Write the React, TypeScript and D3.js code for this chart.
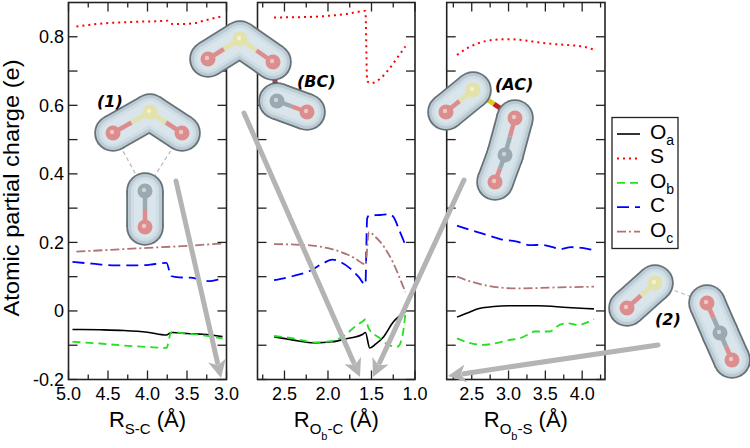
import React, { useEffect, useRef } from 'react';
import * as d3 from 'd3';

type Pt = [number, number];

// shared y axis
const yDomain: [number, number] = [-0.2, 0.9];
const yLabelTicks = [-0.2, 0, 0.2, 0.4, 0.6, 0.8];

// x axes of the three panels
const xDomain1: [number, number] = [5.0, 3.0];
const xDomain2: [number, number] = [2.81, 1.0];
const xDomain3: [number, number] = [2.16, 4.31];
const xTicks1 = [5.0, 4.5, 4.0, 3.5, 3.0];
const xTicks2 = [2.5, 2.0, 1.5, 1.0];
const xTicks3 = [2.5, 3.0, 3.5, 4.0];

// panel 1: R(S-C)
const p1Oa: Pt[] = [[4.95, -0.054], [4.6, -0.055], [4.3, -0.057], [4.0, -0.062], [3.76, -0.07], [3.72, -0.065], [3.68, -0.063], [3.5, -0.066], [3.3, -0.068], [3.05, -0.075]];
const p1S: Pt[] = [[4.9, 0.83], [4.7, 0.836], [4.5, 0.84], [4.3, 0.842], [4.1, 0.844], [3.9, 0.845], [3.75, 0.847], [3.7, 0.838], [3.6, 0.837], [3.4, 0.84], [3.3, 0.846], [3.2, 0.852], [3.05, 0.86]];
const p1Ob: Pt[] = [[4.95, -0.09], [4.6, -0.095], [4.3, -0.101], [4.0, -0.105], [3.76, -0.108], [3.7, -0.062], [3.5, -0.066], [3.3, -0.071], [3.05, -0.08]];
const p1C: Pt[] = [[4.95, 0.143], [4.7, 0.138], [4.4, 0.133], [4.1, 0.133], [3.9, 0.137], [3.76, 0.14], [3.7, 0.102], [3.6, 0.098], [3.45, 0.097], [3.3, 0.09], [3.22, 0.087], [3.1, 0.092], [3.05, 0.095]];
const p1Oc: Pt[] = [[4.9, 0.173], [4.5, 0.178], [4.0, 0.184], [3.5, 0.19], [3.05, 0.197]];

// panel 2: R(Ob-C)
const p2Oa: Pt[] = [[2.62, -0.075], [2.4, -0.085], [2.15, -0.093], [1.95, -0.09], [1.8, -0.082], [1.6, -0.068], [1.57, -0.063], [1.52, -0.108], [1.45, -0.096], [1.36, -0.075], [1.25, -0.032], [1.18, -0.015], [1.11, -0.002]];
const p2S: Pt[] = [[2.62, 0.856], [2.4, 0.857], [2.2, 0.858], [2.0, 0.861], [1.8, 0.866], [1.57, 0.875], [1.55, 0.67], [1.5, 0.665], [1.4, 0.678], [1.3, 0.705], [1.2, 0.74], [1.11, 0.772]];
const p2Ob: Pt[] = [[2.62, -0.073], [2.4, -0.08], [2.15, -0.092], [1.95, -0.087], [1.8, -0.07], [1.7, -0.048], [1.6, -0.03], [1.57, -0.025], [1.53, -0.052], [1.4, -0.08], [1.3, -0.1], [1.2, -0.104], [1.15, -0.08], [1.11, -0.007]];
const p2C: Pt[] = [[2.62, 0.09], [2.4, 0.102], [2.2, 0.118], [2.05, 0.14], [1.95, 0.15], [1.85, 0.142], [1.75, 0.125], [1.65, 0.1], [1.57, 0.077], [1.55, 0.27], [1.53, 0.278], [1.4, 0.28], [1.3, 0.282], [1.25, 0.275], [1.18, 0.235], [1.11, 0.192]];
const p2Oc: Pt[] = [[2.62, 0.195], [2.24, 0.192], [2.0, 0.183], [1.86, 0.173], [1.7, 0.155], [1.57, 0.136], [1.53, 0.23], [1.45, 0.215], [1.35, 0.185], [1.25, 0.14], [1.15, 0.08], [1.11, 0.055]];

// panel 3: R(Ob-S)
const p3Oa: Pt[] = [[2.3, -0.018], [2.45, -0.005], [2.6, 0.007], [2.8, 0.013], [3.0, 0.015], [3.4, 0.015], [3.8, 0.01], [4.16, 0.006]];
const p3S: Pt[] = [[2.3, 0.747], [2.45, 0.768], [2.6, 0.782], [2.8, 0.791], [3.0, 0.793], [3.2, 0.79], [3.4, 0.784], [3.6, 0.779], [3.8, 0.776], [4.0, 0.772], [4.15, 0.763]];
const p3Ob: Pt[] = [[2.3, -0.08], [2.45, -0.092], [2.65, -0.099], [2.85, -0.093], [3.0, -0.085], [3.15, -0.08], [3.3, -0.065], [3.35, -0.06], [3.55, -0.06], [3.7, -0.04], [3.8, -0.036], [3.95, -0.041], [4.05, -0.035], [4.16, -0.024]];
const p3C: Pt[] = [[2.3, 0.249], [2.5, 0.235], [2.7, 0.222], [2.9, 0.209], [3.1, 0.203], [3.3, 0.192], [3.45, 0.193], [3.6, 0.186], [3.7, 0.18], [3.85, 0.186], [4.0, 0.184], [4.16, 0.177]];
const p3Oc: Pt[] = [[2.3, 0.1], [2.5, 0.085], [2.7, 0.074], [2.9, 0.068], [3.1, 0.066], [3.4, 0.067], [3.7, 0.069], [4.0, 0.07], [4.16, 0.071]];

const seriesKeys = ['Oa', 'S', 'Ob', 'C', 'Oc'];
const legendMain = ['O', 'S', 'O', 'C', 'O'];
const legendSub = ['a', '', 'b', '', 'c'];

const seriesStyle: Record<string, { color: string; dash: string; width: number }> = {
  Oa: { color: '#000000', dash: '', width: 1.6 },
  S: { color: '#ff0000', dash: '2 4', width: 2 },
  Ob: { color: '#22e022', dash: '8 5', width: 1.8 },
  C: { color: '#0000ff', dash: '12 6', width: 1.8 },
  Oc: { color: '#ad7472', dash: '9 3 2 3', width: 1.8 },
};

// decorations: molecule sketches and gray arrows (pixel positions)
interface Atom { x: number; y: number; el: string }
interface Molecule {
  label: string; lx: number; ly: number;
  atoms: Atom[]; frags: number[][]; sticks: [number, number, string, string][]; dashed: [number, number][];
}
const molecules: Molecule[] = [
  {
    label: '(1)', lx: 97, ly: 107,
    atoms: [{ x: 113, y: 133, el: 'O' }, { x: 150, y: 112, el: 'S' }, { x: 182, y: 133, el: 'O' }, { x: 145, y: 191, el: 'C' }, { x: 145, y: 227, el: 'O' }],
    frags: [[0, 1, 2], [3, 4]], sticks: [], dashed: [[0, 3], [2, 3]],
  },
  {
    label: '(BC)', lx: 297, ly: 87,
    atoms: [{ x: 208, y: 59, el: 'O' }, { x: 240, y: 39, el: 'S' }, { x: 273, y: 62, el: 'O' }, { x: 277, y: 101, el: 'C' }, { x: 307, y: 112, el: 'O' }],
    frags: [[0, 1, 2], [3, 4]], sticks: [[2, 3, '#c02020', '#303030']], dashed: [],
  },
  {
    label: '(AC)', lx: 495, ly: 90,
    atoms: [{ x: 446, y: 112, el: 'O' }, { x: 473, y: 90, el: 'S' }, { x: 515, y: 118, el: 'O' }, { x: 505, y: 155, el: 'C' }, { x: 495, y: 182, el: 'O' }],
    frags: [[0, 1], [2, 3, 4]], sticks: [[1, 2, '#d8cc20', '#c02020']], dashed: [],
  },
  {
    label: '(2)', lx: 655, ly: 325,
    atoms: [{ x: 627, y: 308, el: 'O' }, { x: 655, y: 283, el: 'S' }, { x: 707, y: 303, el: 'O' }, { x: 720, y: 333, el: 'C' }, { x: 732, y: 360, el: 'O' }],
    frags: [[0, 1], [2, 3, 4]], sticks: [], dashed: [[1, 2]],
  },
];
const arrows: { from: Pt; to: Pt }[] = [
  { from: [176, 181], to: [221, 378] },
  { from: [244, 113], to: [360, 377] },
  { from: [464, 180], to: [373, 377] },
  { from: [658, 345], to: [448, 376] },
];

const atomColor: Record<string, string> = { O: '#dc8e8e', S: '#e2e2aa', C: '#9aaab0' };

const FONT = '"Liberation Sans", Arial, sans-serif';

const App: React.FC = () => {
  const svgRef = useRef<SVGSVGElement>(null);

  useEffect(() => {
    if (!svgRef.current) return;
    const svg = d3.select(svgRef.current);
    svg.selectAll('*').remove();

    const y = d3.scaleLinear().domain(yDomain).range([379.5, 2.5]);
    const yTop = y(yDomain[1]);
    const yBot = y(yDomain[0]);

    const panels = [
      { range: [68.5, 226.5], domain: xDomain1, ticks: xTicks1, data: { Oa: p1Oa, S: p1S, Ob: p1Ob, C: p1C, Oc: p1Oc } as Record<string, Pt[]>, sub: ['S-C'] },
      { range: [257.5, 415], domain: xDomain2, ticks: xTicks2, data: { Oa: p2Oa, S: p2S, Ob: p2Ob, C: p2C, Oc: p2Oc } as Record<string, Pt[]>, sub: ['O', 'b', '-C'] },
      { range: [446.7, 605], domain: xDomain3, ticks: xTicks3, data: { Oa: p3Oa, S: p3S, Ob: p3Ob, C: p3C, Oc: p3Oc } as Record<string, Pt[]>, sub: ['O', 'b', '-S'] },
    ];

    const yMinor = d3.range(-1, 9).map(i => +(i * 0.1).toFixed(2)).filter(v => !yLabelTicks.some(t => Math.abs(t - v) < 1e-6));

    panels.forEach((p, pi) => {
      const x = d3.scaleLinear().domain(p.domain).range(p.range as [number, number]);
      const [x0, x1] = p.range;
      const g = svg.append('g');

      // series
      const line = d3.line<Pt>().x(d => x(d[0])).y(d => y(d[1])).curve(d3.curveMonotoneX);
      seriesKeys.forEach(k => {
        const st = seriesStyle[k];
        g.append('path')
          .attr('d', line(p.data[k]))
          .attr('fill', 'none')
          .attr('stroke', st.color)
          .attr('stroke-width', st.width)
          .attr('stroke-dasharray', st.dash || null);
      });

      // frame
      g.append('rect')
        .attr('x', x0).attr('y', yTop)
        .attr('width', x1 - x0).attr('height', yBot - yTop)
        .attr('fill', 'none').attr('stroke', '#222').attr('stroke-width', 1.6);

      // x ticks
      const lo = Math.min(...p.domain), hi = Math.max(...p.domain);
      const minor = d3.range(Math.ceil(lo * 4) / 4, hi + 1e-9, 0.25)
        .filter(v => !p.ticks.some(t => Math.abs(t - v) < 1e-6));
      const tick = (v: number, len: number) => {
        g.append('line').attr('x1', x(v)).attr('x2', x(v)).attr('y1', yBot).attr('y2', yBot - len)
          .attr('stroke', '#222').attr('stroke-width', 1.3);
        g.append('line').attr('x1', x(v)).attr('x2', x(v)).attr('y1', yTop).attr('y2', yTop + len)
          .attr('stroke', '#222').attr('stroke-width', 1.3);
      };
      p.ticks.forEach(v => tick(v, 9));
      minor.forEach(v => tick(v, 5));
      p.ticks.forEach(v => {
        g.append('text')
          .attr('x', x(v)).attr('y', 400)
          .attr('text-anchor', 'middle')
          .attr('font-family', FONT).attr('font-size', 18)
          .text(v.toFixed(1));
      });

      // y ticks on both sides
      const ytick = (v: number, len: number) => {
        g.append('line').attr('x1', x0).attr('x2', x0 + len).attr('y1', y(v)).attr('y2', y(v))
          .attr('stroke', '#222').attr('stroke-width', 1.3);
        g.append('line').attr('x1', x1).attr('x2', x1 - len).attr('y1', y(v)).attr('y2', y(v))
          .attr('stroke', '#222').attr('stroke-width', 1.3);
      };
      yLabelTicks.forEach(v => ytick(v, 9));
      yMinor.forEach(v => ytick(v, 9));

      if (pi === 0) {
        yLabelTicks.forEach(v => {
          g.append('text')
            .attr('x', 64).attr('y', y(v) + 6.5)
            .attr('text-anchor', 'end')
            .attr('font-family', FONT).attr('font-size', 18)
            .text(v === 0 ? '0' : v.toFixed(1));
        });
      }

      // x title
      const t = g.append('text')
        .attr('x', (x0 + x1) / 2).attr('y', 427)
        .attr('text-anchor', 'middle')
        .attr('font-family', FONT).attr('font-size', 22);
      t.append('tspan').text('R');
      if (p.sub.length === 1) {
        t.append('tspan').attr('font-size', 15).attr('dy', 7).text(p.sub[0]);
        t.append('tspan').attr('dy', -7).text('\u00a0(Å)');
      } else {
        t.append('tspan').attr('font-size', 15).attr('dy', 7).text(p.sub[0]);
        t.append('tspan').attr('font-size', 11).attr('dy', 6).text(p.sub[1]);
        t.append('tspan').attr('font-size', 15).attr('dy', -6).text(p.sub[2]);
        t.append('tspan').attr('dy', -7).text('\u00a0(Å)');
      }
    });

    // y title
    svg.append('text')
      .attr('transform', `translate(18.5, 188) rotate(-90)`)
      .attr('text-anchor', 'middle')
      .attr('font-family', FONT).attr('font-size', 22)
      .attr('textLength', 257).attr('lengthAdjust', 'spacingAndGlyphs')
      .text('Atomic partial charge (e)');

    // legend
    const lg = svg.append('g');
    lg.append('rect').attr('x', 612).attr('y', 117.5).attr('width', 66).attr('height', 131)
      .attr('fill', '#fff').attr('stroke', '#222').attr('stroke-width', 1.3);
    seriesKeys.forEach((k, i) => {
      const st = seriesStyle[k];
      const ly = 134 + i * 24.4;
      lg.append('line').attr('x1', 617).attr('x2', 640).attr('y1', ly).attr('y2', ly)
        .attr('stroke', st.color).attr('stroke-width', st.width)
        .attr('stroke-dasharray', st.dash || null);
      const tx = lg.append('text').attr('x', 650).attr('y', ly + 5)
        .attr('font-family', FONT).attr('font-size', 21);
      tx.append('tspan').text(legendMain[i]);
      if (legendSub[i]) tx.append('tspan').attr('font-size', 14).attr('dy', 6).text(legendSub[i]);
    });

    // molecules
    const R = 17;
    molecules.forEach(m => {
      const mg = svg.append('g');
      const A = m.atoms;
      m.dashed.forEach(([a, b]) => {
        mg.append('line').attr('x1', A[a].x).attr('y1', A[a].y).attr('x2', A[b].x).attr('y2', A[b].y)
          .attr('stroke', '#b8b8b8').attr('stroke-width', 1.2).attr('stroke-dasharray', '4 3');
      });
      m.sticks.forEach(([a, b, ca, cb]) => {
        const mx = (A[a].x + A[b].x) / 2, my = (A[a].y + A[b].y) / 2;
        mg.append('line').attr('x1', A[a].x).attr('y1', A[a].y).attr('x2', mx).attr('y2', my)
          .attr('stroke', ca).attr('stroke-width', 5);
        mg.append('line').attr('x1', mx).attr('y1', my).attr('x2', A[b].x).attr('y2', A[b].y)
          .attr('stroke', cb).attr('stroke-width', 5);
      });
      const blob = (pad: number, color: string) => {
        m.frags.forEach(f => {
          for (let i = 0; i + 1 < f.length; i++) {
            const a = A[f[i]], b = A[f[i + 1]];
            mg.append('line').attr('x1', a.x).attr('y1', a.y).attr('x2', b.x).attr('y2', b.y)
              .attr('stroke', color).attr('stroke-width', 2 * (R + pad));
          }
          f.forEach(i => {
            mg.append('circle').attr('cx', A[i].x).attr('cy', A[i].y).attr('r', R + pad).attr('fill', color);
          });
        });
      };
      blob(1.8, '#667277');
      blob(0, '#bccbd3');
      blob(-3, '#cfdde5');
      blob(-6, '#d9e5eb');
      m.frags.forEach(f => {
        for (let i = 0; i + 1 < f.length; i++) {
          const a = A[f[i]], b = A[f[i + 1]];
          const mx = (a.x + b.x) / 2, my = (a.y + b.y) / 2;
          mg.append('line').attr('x1', a.x).attr('y1', a.y).attr('x2', mx).attr('y2', my)
            .attr('stroke', atomColor[a.el]).attr('stroke-width', 4.5);
          mg.append('line').attr('x1', mx).attr('y1', my).attr('x2', b.x).attr('y2', b.y)
            .attr('stroke', atomColor[b.el]).attr('stroke-width', 4.5);
        }
      });
      A.forEach(a => {
        mg.append('circle').attr('cx', a.x).attr('cy', a.y).attr('r', 7.5).attr('fill', atomColor[a.el]);
        mg.append('circle').attr('cx', a.x - 1).attr('cy', a.y - 1).attr('r', 2.2).attr('fill', '#fff').attr('opacity', 0.5);
      });
      mg.append('text').attr('x', m.lx).attr('y', m.ly)
        .attr('font-family', '"DejaVu Sans", sans-serif').attr('font-size', 16)
        .attr('font-weight', 'bold').attr('font-style', 'italic')
        .text(m.label);
    });

    // arrows
    arrows.forEach(a => {
      const [fx, fy] = a.from, [tx, ty] = a.to;
      const L = Math.hypot(tx - fx, ty - fy);
      const ux = (tx - fx) / L, uy = (ty - fy) / L;
      const hl = 18, hw = 9;
      const bx = tx - ux * hl, by = ty - uy * hl;
      svg.append('line').attr('x1', fx).attr('y1', fy).attr('x2', bx + ux * 2).attr('y2', by + uy * 2)
        .attr('stroke', '#b4b4b4').attr('stroke-width', 5).attr('stroke-linecap', 'round');
      svg.append('polygon')
        .attr('points', `${tx},${ty} ${bx - uy * hw},${by + ux * hw} ${bx + ux * 5},${by + uy * 5} ${bx + uy * hw},${by - ux * hw}`)
        .attr('fill', '#b4b4b4');
    });
  }, []);

  return (
    <svg
      ref={svgRef}
      width={750}
      height={448}
      style={{ position: 'absolute', left: 0, top: 0, background: '#fff' }}
    />
  );
};

export default App;
